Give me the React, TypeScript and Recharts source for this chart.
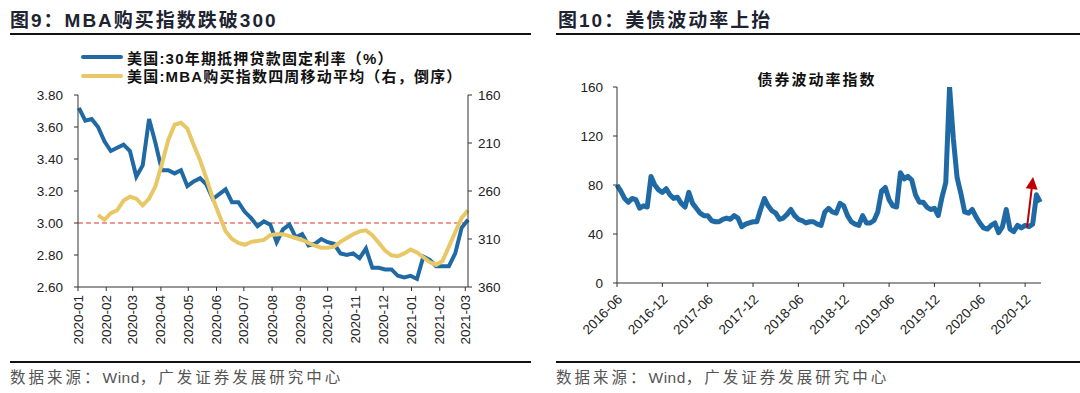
import React from "react";
import { LineChart, Line, XAxis, YAxis, ReferenceLine } from "recharts";

const FONT = '"Liberation Sans", Arial, "Noto Sans CJK SC", sans-serif';
const CJK = '"Liberation Sans", Arial, "Noto Sans CJK SC", sans-serif';

// ---- left: mortgage rate vs MBA purchase index ----
const leftMonths = [
  "2020-01", "2020-02", "2020-03", "2020-04", "2020-05", "2020-06", "2020-07",
  "2020-08", "2020-09", "2020-10", "2020-11", "2020-12", "2021-01", "2021-02", "2021-03",
];
const firstWeek = "2020-01-02";
const mortgageRate = [
  3.72, 3.64, 3.65, 3.6, 3.51, 3.45, 3.47, 3.49, 3.45, 3.29, 3.36, 3.65, 3.5, 3.33, 3.33, 3.31,
  3.33, 3.23, 3.26, 3.28, 3.24, 3.15, 3.18, 3.21, 3.13, 3.13, 3.07, 3.03, 2.98, 3.01, 2.99, 2.88,
  2.96, 2.99, 2.91, 2.93, 2.86, 2.87, 2.9, 2.88, 2.87, 2.81, 2.8, 2.81, 2.78, 2.84, 2.72, 2.72,
  2.71, 2.71, 2.67, 2.66, 2.67, 2.65, 2.79, 2.77, 2.73, 2.73, 2.73, 2.81, 2.97, 3.02,
];
// 4-week average starts at the 4th week
const mbaStartWeek = 3;
const mba4w = [
  285, 290, 283, 280, 270, 266, 268, 275, 268, 255, 232, 207, 191, 189, 195, 212, 228, 247, 268,
  285, 302, 310, 314, 316, 313, 312, 311, 306, 305, 305, 307, 309, 311, 314, 317, 319, 319, 318,
  313, 309, 305, 302, 301, 306, 314, 322, 327, 328, 325, 321, 324, 329, 334, 337, 333, 318, 303,
  288, 280,
];
const rateTicks = [2.6, 2.8, 3.0, 3.2, 3.4, 3.6, 3.8];
const mbaTicks = [160, 210, 260, 310, 360];

// ---- right: bond volatility index, half-month steps from 2016-06 ----
const moveLabels = [
  "2016-06", "2016-12", "2017-06", "2017-12", "2018-06",
  "2018-12", "2019-06", "2019-12", "2020-06", "2020-12",
];
const moveValues = [
  80, 75, 69, 66, 69, 68, 61, 63, 62, 87, 80, 76, 74, 77, 72, 69, 70, 65, 62, 74,
  65, 61, 57, 55, 55, 51, 50, 50, 52, 53, 52, 55, 53, 46, 48, 49, 50, 50, 60, 69,
  63, 59, 57, 52, 53, 56, 60, 55, 52, 51, 49, 50, 50, 48, 47, 58, 61, 58, 57, 65,
  63, 55, 50, 48, 47, 55, 49, 49, 51, 58, 75, 78, 68, 63, 62, 90, 85, 87, 84, 72,
  66, 66, 62, 60, 61, 55, 70, 82, 160, 118, 86, 73, 58, 57, 60, 54, 49, 45, 44, 47,
  49, 41, 46, 60, 44, 42, 47, 45, 47, 46, 48, 72, 66,
];
const moveTicks = [0, 40, 80, 120, 160];

const DAY = 86400000;
const origin = Date.UTC(2020, 0, 1);
const dayOf = (s: string) => {
  const [y, m, d] = s.split("-").map(Number);
  return Math.round((Date.UTC(y, m - 1, d || 1) - origin) / DAY);
};
const monthDays = leftMonths.map((m) => dayOf(m));
const leftData = mortgageRate.map((rate, i) => ({
  day: dayOf(firstWeek) + 7 * i,
  rate,
  mba: i >= mbaStartWeek ? mba4w[i - mbaStartWeek] : null,
}));
const lastDay = leftData[leftData.length - 1].day;

const moveData = moveValues.map((v, i) => ({ t: i * 0.5, v }));
const moveXTicks = moveLabels.map((_, i) => i * 6);

const BLUE = "#1f6aa5";
const YELLOW = "#e8c766";
const AXIS = "#333";

const MonthTick = ({ x, y, payload }: any) => {
  const label = leftMonths[monthDays.indexOf(payload.value)];
  return (
    <text
      x={x}
      y={y + 2}
      transform={`rotate(-90 ${x} ${y + 2})`}
      textAnchor="end"
      dominantBaseline="central"
      fontSize={13.5}
      fontFamily={FONT}
      fill="#222"
    >
      {label}
    </text>
  );
};

const DiagTick = ({ x, y, payload }: any) => {
  const label = moveLabels[moveXTicks.indexOf(payload.value)];
  const ax = x + 3;
  const ay = y + 8;
  return (
    <text
      x={ax}
      y={ay}
      transform={`rotate(-45 ${ax} ${ay})`}
      textAnchor="end"
      dominantBaseline="central"
      fontSize={13.5}
      fontFamily={FONT}
      fill="#222"
    >
      {label}
    </text>
  );
};

const Arrow = (p: any) => {
  const { x1, y1, x2, y2 } = p;
  const ang = Math.atan2(y2 - y1, x2 - x1);
  const len = 12;
  const w = 6;
  const bx = x2 - len * Math.cos(ang);
  const by = y2 - len * Math.sin(ang);
  const nx = -Math.sin(ang) * w;
  const ny = Math.cos(ang) * w;
  return (
    <g>
      <line x1={x1} y1={y1} x2={bx} y2={by} stroke="#c00000" strokeWidth={2} />
      <polygon
        points={`${x2},${y2} ${bx + nx},${by + ny} ${bx - nx},${by - ny}`}
        fill="#c00000"
      />
    </g>
  );
};

const titleStyle: React.CSSProperties = {
  position: "absolute",
  top: 5,
  fontFamily: CJK,
  fontWeight: 700,
  fontSize: 19,
  letterSpacing: 2,
  color: "#1d2330",
  whiteSpace: "nowrap",
};
const ruleStyle: React.CSSProperties = {
  position: "absolute",
  height: 2,
  background: "#111",
};
const sourceStyle: React.CSSProperties = {
  position: "absolute",
  top: 365,
  fontFamily: CJK,
  fontSize: 15.5,
  letterSpacing: 3,
  color: "#555",
  whiteSpace: "nowrap",
};
const legendText: React.CSSProperties = {
  fontFamily: CJK,
  fontWeight: 700,
  fontSize: 15,
  letterSpacing: 1.2,
  color: "#111",
  marginLeft: 4,
};

function Source({ left }: { left: number }) {
  return (
    <div style={{ ...sourceStyle, left }}>
      数据来源：<span style={{ letterSpacing: 0.5 }}>Wind</span>，广发证券发展研究中心
    </div>
  );
}

function MortgageChart() {
  return (
    <div style={{ position: "absolute", left: 0, top: 0 }}>
      <LineChart
        width={540}
        height={393}
        data={leftData}
        margin={{ top: 95, right: 0, bottom: 0, left: 0 }}
      >
        <XAxis
          type="number"
          dataKey="day"
          domain={[0, lastDay]}
          ticks={monthDays}
          interval={0}
          height={106}
          tickSize={4}
          tick={<MonthTick />}
          axisLine={{ stroke: AXIS }}
          tickLine={{ stroke: AXIS }}
        />
        <YAxis
          yAxisId="l"
          domain={[2.6, 3.8]}
          ticks={rateTicks}
          width={78}
          tickSize={4}
          tickMargin={11}
          tickFormatter={(v: number) => v.toFixed(2)}
          tick={{ fill: "#222", fontSize: 13.5, fontFamily: FONT }}
          axisLine={{ stroke: AXIS }}
          tickLine={{ stroke: AXIS }}
        />
        <YAxis
          yAxisId="r"
          orientation="right"
          reversed
          domain={[160, 360]}
          ticks={mbaTicks}
          width={72}
          tickSize={4}
          tickMargin={6}
          tick={{ fill: "#222", fontSize: 13.5, fontFamily: FONT }}
          axisLine={{ stroke: AXIS }}
          tickLine={{ stroke: AXIS }}
        />
        <ReferenceLine yAxisId="l" y={3} stroke="#e0302a" strokeDasharray="5 3" strokeWidth={1} />
        <Line
          yAxisId="l"
          dataKey="rate"
          stroke={BLUE}
          strokeWidth={4}
          dot={false}
          isAnimationActive={false}
        />
        <Line
          yAxisId="r"
          dataKey="mba"
          stroke={YELLOW}
          strokeWidth={4}
          dot={false}
          isAnimationActive={false}
        />
      </LineChart>
      <div style={{ position: "absolute", left: 81, top: 48 }}>
        {[
          { c: BLUE, t: "美国:30年期抵押贷款固定利率（%）" },
          { c: YELLOW, t: "美国:MBA购买指数四周移动平均（右，倒序）" },
        ].map((it) => (
          <div key={it.t} style={{ display: "flex", alignItems: "center", height: 18.5 }}>
            <div style={{ width: 42, height: 4, background: it.c, borderRadius: 2 }} />
            <span style={legendText}>{it.t}</span>
          </div>
        ))}
      </div>
    </div>
  );
}

function VolatilityChart() {
  return (
    <div style={{ position: "absolute", left: 540, top: 0 }}>
      <LineChart
        width={540}
        height={393}
        data={moveData}
        margin={{ top: 87, right: 39, bottom: 0, left: 0 }}
      >
        <XAxis
          type="number"
          dataKey="t"
          domain={[0, 56.1]}
          ticks={moveXTicks}
          interval={0}
          height={110}
          tickSize={4}
          tick={<DiagTick />}
          axisLine={{ stroke: AXIS }}
          tickLine={{ stroke: AXIS }}
        />
        <YAxis
          domain={[0, 160]}
          ticks={moveTicks}
          width={77}
          tickSize={4}
          tickMargin={10}
          allowDataOverflow
          tick={{ fill: "#222", fontSize: 13.5, fontFamily: FONT }}
          axisLine={{ stroke: AXIS }}
          tickLine={{ stroke: AXIS }}
        />
        <Line
          dataKey="v"
          stroke={BLUE}
          strokeWidth={5}
          strokeLinejoin="round"
          dot={false}
          isAnimationActive={false}
        />
        <ReferenceLine
          segment={[
            { x: 54.26, y: 45.7 },
            { x: 55.05, y: 86.5 },
          ]}
          shape={<Arrow />}
        />
      </LineChart>
      <div
        style={{
          position: "absolute",
          left: 0,
          width: 554,
          top: 68,
          textAlign: "center",
          fontFamily: CJK,
          fontWeight: 700,
          fontSize: 15,
          letterSpacing: 2,
          color: "#111",
        }}
      >
        债券波动率指数
      </div>
    </div>
  );
}

export default function App() {
  return (
    <div
      style={{
        position: "absolute",
        left: 0,
        top: 0,
        width: 1080,
        height: 393,
        background: "#fff",
        overflow: "hidden",
      }}
    >
      <div style={{ ...titleStyle, left: 10 }}>图9：MBA购买指数跌破300</div>
      <div style={{ ...titleStyle, left: 558 }}>图10：美债波动率上抬</div>
      <div style={{ ...ruleStyle, left: 10, width: 521, top: 33 }} />
      <div style={{ ...ruleStyle, left: 556, width: 524, top: 33 }} />
      <MortgageChart />
      <VolatilityChart />
      <div style={{ ...ruleStyle, left: 10, width: 521, top: 361 }} />
      <div style={{ ...ruleStyle, left: 556, width: 524, top: 361 }} />
      <Source left={10} />
      <Source left={556} />
    </div>
  );
}
